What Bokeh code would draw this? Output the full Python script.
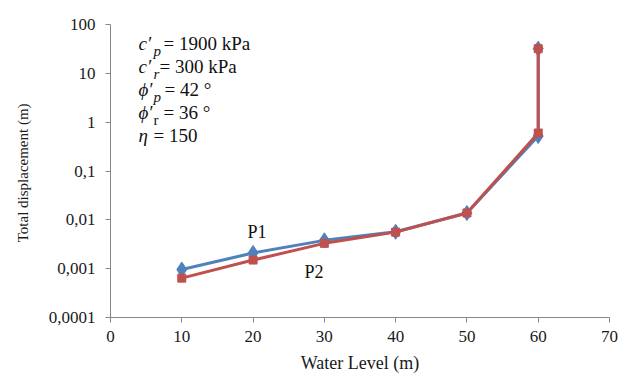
from bokeh.plotting import figure
from bokeh.models import ColumnDataSource, FixedTicker, CustomJSTickFormatter, Label, Range1d
from bokeh.embed import file_html
from bokeh.resources import INLINE

# data
water_level = [10, 20, 30, 40, 50, 60, 60]
p1_disp = [0.00096, 0.0021, 0.0038, 0.0057, 0.0138, 0.52, 32]
p2_disp = [0.00064, 0.0015, 0.0033, 0.0056, 0.0138, 0.60, 32]
x_ticks = [0, 10, 20, 30, 40, 50, 60, 70]
y_ticks = [0.0001, 0.001, 0.01, 0.1, 1, 10, 100]
y_tick_labels = ["0,0001", "0,001", "0,01", "0,1", "1", "10", "100"]

FONT = "Liberation Serif"
BLUE = "#4F81BD"
RED = "#C0504D"
AX = "#868686"
TXT = "#1a1a1a"

p = figure(width=634, height=375, frame_width=499, frame_height=293,
           min_border_left=110, min_border_right=25, min_border_top=24, min_border_bottom=58,
           y_axis_type="log", x_range=Range1d(0, 70), y_range=Range1d(0.0001, 100),
           output_backend="svg", toolbar_location=None, background_fill_color="white")
p.outline_line_color = None
p.xgrid.visible = False
p.ygrid.visible = False

s1 = ColumnDataSource(dict(x=water_level, y=p1_disp))
s2 = ColumnDataSource(dict(x=water_level, y=p2_disp))
p.line("x", "y", source=s1, line_color=BLUE, line_width=3)
p.scatter("x", "y", source=s1, marker="diamond", size=15, fill_color=BLUE, line_color=BLUE)
p.line("x", "y", source=s2, line_color=RED, line_width=3)
p.scatter("x", "y", source=s2, marker="square", size=8, fill_color=RED, line_color=RED)

p.xaxis.ticker = FixedTicker(ticks=x_ticks)
p.yaxis.ticker = FixedTicker(ticks=y_ticks, minor_ticks=[])
label_map = "{" + ",".join('"%s":"%s"' % (str(t), l) for t, l in zip(y_ticks, y_tick_labels)) + "}"
p.yaxis.formatter = CustomJSTickFormatter(code="""
const m = %s;
const k = String(tick);
return (k in m) ? m[k] : k.replace('.', ',');
""" % label_map)

for ax in (p.xaxis, p.yaxis):
    ax.axis_line_color = AX
    ax.major_tick_line_color = AX
    ax.minor_tick_line_color = None
    ax.major_tick_in = 0
    ax.major_tick_out = 5
    ax.major_label_text_font = FONT
    ax.major_label_text_font_size = "17px"
    ax.major_label_text_color = TXT
    ax.axis_label_text_font = FONT
    ax.axis_label_text_font_style = "normal"
    ax.axis_label_text_color = TXT

p.xaxis.axis_label = "Water Level (m)"
p.yaxis.axis_label = "Total displacement  (m)"
p.xaxis.axis_label_text_font_size = "18px"
p.yaxis.axis_label_text_font_size = "15px"
p.xaxis.major_label_standoff = 8
p.yaxis.major_label_standoff = 10
p.xaxis.axis_label_standoff = 8
p.yaxis.axis_label_standoff = 15

def lab(x, y, t, size="19px", style="normal"):
    p.add_layout(Label(x=x, y=y, x_units="screen", y_units="screen", text=t,
                       text_font=FONT, text_font_size=size, text_font_style=style,
                       text_color="#111111", text_baseline="middle"))

def sy(ypix):
    return 317 - ypix

def sx(xpix):
    return xpix - 110

rows = [
    ("c\u2032", "p", "= 1900 kPa", 43, 153, 163),
    ("c\u2032", "r", "= 300 kPa", 66, 153, 159),
    ("\u03d5\u2032", "p", "= 42 \u00b0", 89, 153, 164),
    ("\u03d5\u2032", "r", "= 36 \u00b0", 112, 153, 163),
]
for main, sub, rest, yy, xs, xr in rows:
    lab(sx(138), sy(yy), main, style="italic")
    lab(sx(xs), sy(yy + 7), sub, size="15px", style="italic" if sub == "p" or main.startswith("c") else "normal")
    lab(sx(xr), sy(yy), rest)
lab(sx(138), sy(135), "\u03b7", style="italic")
lab(sx(153), sy(135), "= 150")

lab(sx(247), sy(231), "P1", size="18px")
lab(sx(304), sy(271), "P2", size="18px")

open("out.html", "w").write(file_html(p, INLINE))
